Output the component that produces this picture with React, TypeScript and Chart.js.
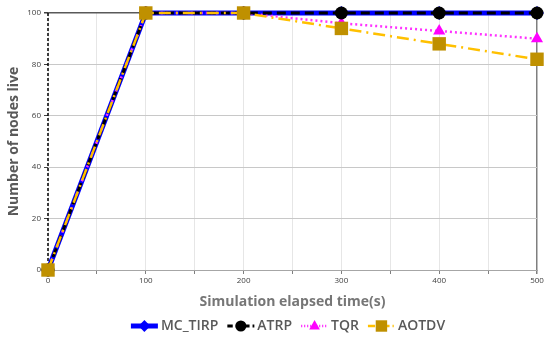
import React, { useEffect, useRef } from "react";
import { Chart, registerables } from "chart.js";

Chart.register(...registerables);

const timeSteps = [0, 100, 200, 300, 400, 500];
const mcTirp = [0, 100, 100, 100, 100, 100];
const atrp = [0, 100, 100, 100, 100, 100];
const tqr = [0, 100, 100, 96, 93, 90];
const aotdv = [0, 100, 100, 94, 88, 82];
const seriesNames = ["MC_TIRP", "ATRP", "TQR", "AOTDV"];

const toPoints = (ys: number[]) => timeSteps.map((x, i) => ({ x, y: ys[i] }));

type Sty = {
  line: string;
  dash: number[];
  width: number;
  marker: string;
  mColor: string;
  r: number;
};

const styles: Sty[] = [
  { line: "#0000FF", dash: [], width: 5, marker: "rectRot", mColor: "#0000FF", r: 7 },
  { line: "#000000", dash: [9, 5], width: 3, marker: "circle", mColor: "#000000", r: 6.5 },
  { line: "#FF33FF", dash: [2, 3], width: 2.5, marker: "triangle", mColor: "#FF00FF", r: 7 },
  { line: "#FFC000", dash: [12, 5, 2, 5], width: 2.5, marker: "rect", mColor: "#BF9000", r: 9.5 },
];

function drawMarker(ctx: CanvasRenderingContext2D, s: Sty, x: number, y: number, r: number) {
  ctx.save();
  ctx.fillStyle = s.mColor;
  ctx.setLineDash([]);
  ctx.beginPath();
  if (s.marker === "circle") {
    ctx.arc(x, y, r, 0, Math.PI * 2);
  } else if (s.marker === "rectRot") {
    ctx.moveTo(x, y - r);
    ctx.lineTo(x + r, y);
    ctx.lineTo(x, y + r);
    ctx.lineTo(x - r, y);
    ctx.closePath();
  } else if (s.marker === "triangle") {
    ctx.moveTo(x, y - r);
    ctx.lineTo(x + r * 0.9, y + r * 0.6);
    ctx.lineTo(x - r * 0.9, y + r * 0.6);
    ctx.closePath();
  } else {
    const h = r * Math.SQRT1_2;
    ctx.rect(x - h, y - h, 2 * h, 2 * h);
  }
  ctx.fill();
  ctx.restore();
}

const axisPlugin = {
  id: "dashedYAxis",
  beforeDatasetsDraw(chart: any) {
    const { ctx, chartArea } = chart;
    ctx.save();
    ctx.strokeStyle = "#000000";
    ctx.lineWidth = 1.5;
    ctx.setLineDash([3, 2]);
    ctx.beginPath();
    ctx.moveTo(chartArea.left, chartArea.top);
    ctx.lineTo(chartArea.left, chartArea.bottom);
    ctx.stroke();
    ctx.restore();
  },
};

const legendPlugin = {
  id: "customLegend",
  afterDraw(chart: any) {
    const ctx: CanvasRenderingContext2D = chart.ctx;
    ctx.save();
    ctx.font = "600 14px 'Open Sans'";
    const symW = 27;
    const gap = 3;
    const itemGap = 9;
    const widths = seriesNames.map((n) => symW + gap + ctx.measureText(n).width);
    const total = widths.reduce((a, b) => a + b, 0) + itemGap * (seriesNames.length - 1);
    let x = 288 - total / 2;
    const y = 326;
    seriesNames.forEach((name, i) => {
      const s = styles[i];
      ctx.save();
      ctx.strokeStyle = s.line;
      ctx.lineWidth = s.width;
      ctx.setLineDash(s.dash.length ? s.dash.map((d) => d * 0.6) : []);
      ctx.beginPath();
      ctx.moveTo(x, y);
      ctx.lineTo(x + symW, y);
      ctx.stroke();
      ctx.restore();
      drawMarker(ctx, s, x + symW / 2, y, s.r * 0.85);
      ctx.fillStyle = "#595959";
      ctx.textBaseline = "middle";
      ctx.textAlign = "left";
      ctx.fillText(name, x + symW + gap, y);
      x += widths[i] + itemGap;
    });
    ctx.restore();
  },
};

export default function App() {
  const ref = useRef<HTMLCanvasElement | null>(null);
  useEffect(() => {
    if (!ref.current) return;
    const all = [mcTirp, atrp, tqr, aotdv];
    const orders = [3, 1, 2, 0];
    const chart = new Chart(ref.current, {
      type: "line",
      data: {
        datasets: all.map((ys, i) => ({
          label: seriesNames[i],
          data: toPoints(ys),
          borderColor: styles[i].line,
          borderWidth: styles[i].width,
          borderDash: styles[i].dash,
          pointStyle: styles[i].marker as any,
          pointRadius: styles[i].r,
          pointBackgroundColor: styles[i].mColor,
          pointBorderColor: styles[i].mColor,
          pointBorderWidth: 0,
          order: orders[i],
          clip: false as any,
          tension: 0,
        })),
      },
      options: {
        animation: false,
        responsive: false,
        devicePixelRatio: 1,
        layout: { padding: { left: 0, right: 13, top: 13, bottom: 22 } },
        plugins: { legend: { display: false }, tooltip: { enabled: false } },
        scales: {
          x: {
            type: "linear",
            min: 0,
            max: 500,
            ticks: {
              stepSize: 50,
              autoSkip: false,
              maxRotation: 0,
              padding: 2,
              color: "#404040",
              font: { size: 8, family: "'Open Sans'" },
              callback: (v: any) => (Number(v) % 100 === 0 ? String(v) : ""),
            },
            grid: {
              color: (c: any) => (c.tick && c.tick.value === 500 ? "#7F7F7F" : "#E6E6E6"),
              lineWidth: (c: any) => (c.tick && c.tick.value === 500 ? 1.5 : 1),
              tickColor: "#7F7F7F",
              tickLength: 4,
            },
            border: { color: "#A6A6A6", width: 1 },
            title: {
              display: true,
              text: "Simulation elapsed time(s)",
              color: "#767676",
              font: { size: 14, weight: "bold", family: "'Open Sans'" },
              padding: { top: 2, bottom: 6 },
            },
            afterFit: (s: any) => {
              s.height = 46;
            },
          },
          y: {
            min: 0,
            max: 100,
            ticks: {
              stepSize: 20,
              padding: 3,
              color: "#404040",
              font: { size: 8, family: "'Open Sans'" },
            },
            grid: {
              color: (c: any) => (c.tick && c.tick.value === 100 ? "#595959" : "#C8C8C8"),
              lineWidth: (c: any) => (c.tick && c.tick.value === 100 ? 1.5 : 1),
              tickColor: "#404040",
              tickLength: 4,
            },
            border: { display: false },
            title: {
              display: true,
              text: "Number of nodes live",
              color: "#595959",
              font: { size: 14, weight: "bold", family: "'Open Sans'" },
              padding: { top: 6, bottom: 0 },
            },
            afterFit: (s: any) => {
              s.width = 48;
            },
          },
        },
      },
      plugins: [axisPlugin, legendPlugin],
    });
    return () => chart.destroy();
  }, []);
  return (
    <div style={{ position: "absolute", left: 0, top: 0, width: 550, height: 338, background: "#fff" }}>
      <canvas ref={ref} width={550} height={338} />
    </div>
  );
}
